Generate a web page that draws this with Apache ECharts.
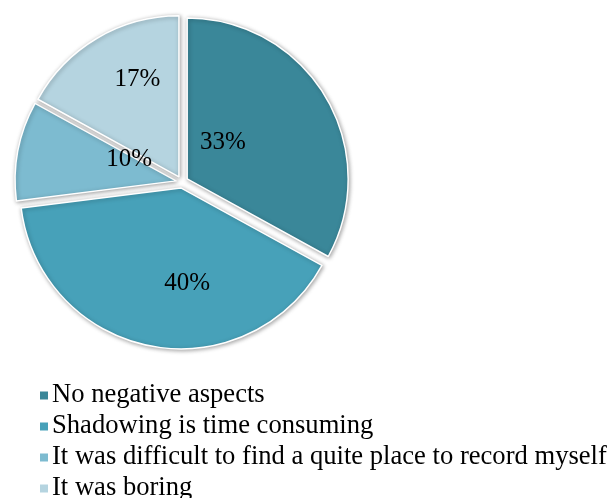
<!DOCTYPE html>
<html>
<head>
<meta charset="utf-8">
<script src="https://cdn.jsdelivr.net/npm/echarts@6/dist/echarts.min.js"></script>
<style>
  html, body { margin: 0; padding: 0; background: #ffffff; }
  #chart { width: 614px; height: 498px; }
</style>
</head>
<body>
<div id="chart"></div>
<script>
// Survey answers: negative aspects of shadowing practice (percent of responses)
const categories = [
  'No negative aspects',
  'Shadowing is time consuming',
  'It was difficult to find a quite place to record myself',
  'It was boring'
];
const shares = [33, 40, 10, 17];

const palette = ['#3A8799', '#47A1B9', '#7DBBD0', '#B5D4E0'];
// nudges of each percentage label away from the slice midpoint
const labelShift = [[-36, 6], [22, 14], [35, -6], [1, -26]];

const chart = echarts.init(document.getElementById('chart'), null, { renderer: 'canvas' });

chart.setOption({
  animation: false,
  backgroundColor: '#ffffff',
  color: palette,
  legend: {
    orient: 'vertical',
    left: 33,
    top: 377,
    height: 160,
    itemWidth: 10,
    itemHeight: 10,
    itemGap: 4,
    icon: 'rect',
    selectedMode: false,
    textStyle: {
      fontFamily: '"Liberation Serif", "Times New Roman", serif',
      fontSize: 26.6,
      color: '#000000',
      padding: [0, 0, 0, -2]
    },
    data: categories
  },
  series: [{
    type: 'pie',
    center: [182, 182],
    radius: 161,
    startAngle: 90,
    clockwise: true,
    selectedMode: 'multiple',
    selectedOffset: 6,
    avoidLabelOverlap: false,
    itemStyle: {
      borderColor: '#ffffff',
      borderWidth: 1.5,
      shadowBlur: 4,
      shadowColor: 'rgba(0,0,0,0.35)',
      shadowOffsetX: 1,
      shadowOffsetY: 1
    },
    emphasis: { disabled: true },
    select: { itemStyle: { borderColor: '#ffffff', borderWidth: 1.5 } },
    label: {
      show: true,
      position: 'inside',
      formatter: p => p.value + '%',
      fontFamily: '"Liberation Serif", "Times New Roman", serif',
      fontSize: 25,
      color: '#000000'
    },
    labelLine: { show: false },
    labelLayout: p => ({ dx: labelShift[p.dataIndex][0], dy: labelShift[p.dataIndex][1] }),
    data: categories.map((name, i) => ({ name, value: shares[i], selected: true }))
  }]
});
</script>
</body>
</html>
